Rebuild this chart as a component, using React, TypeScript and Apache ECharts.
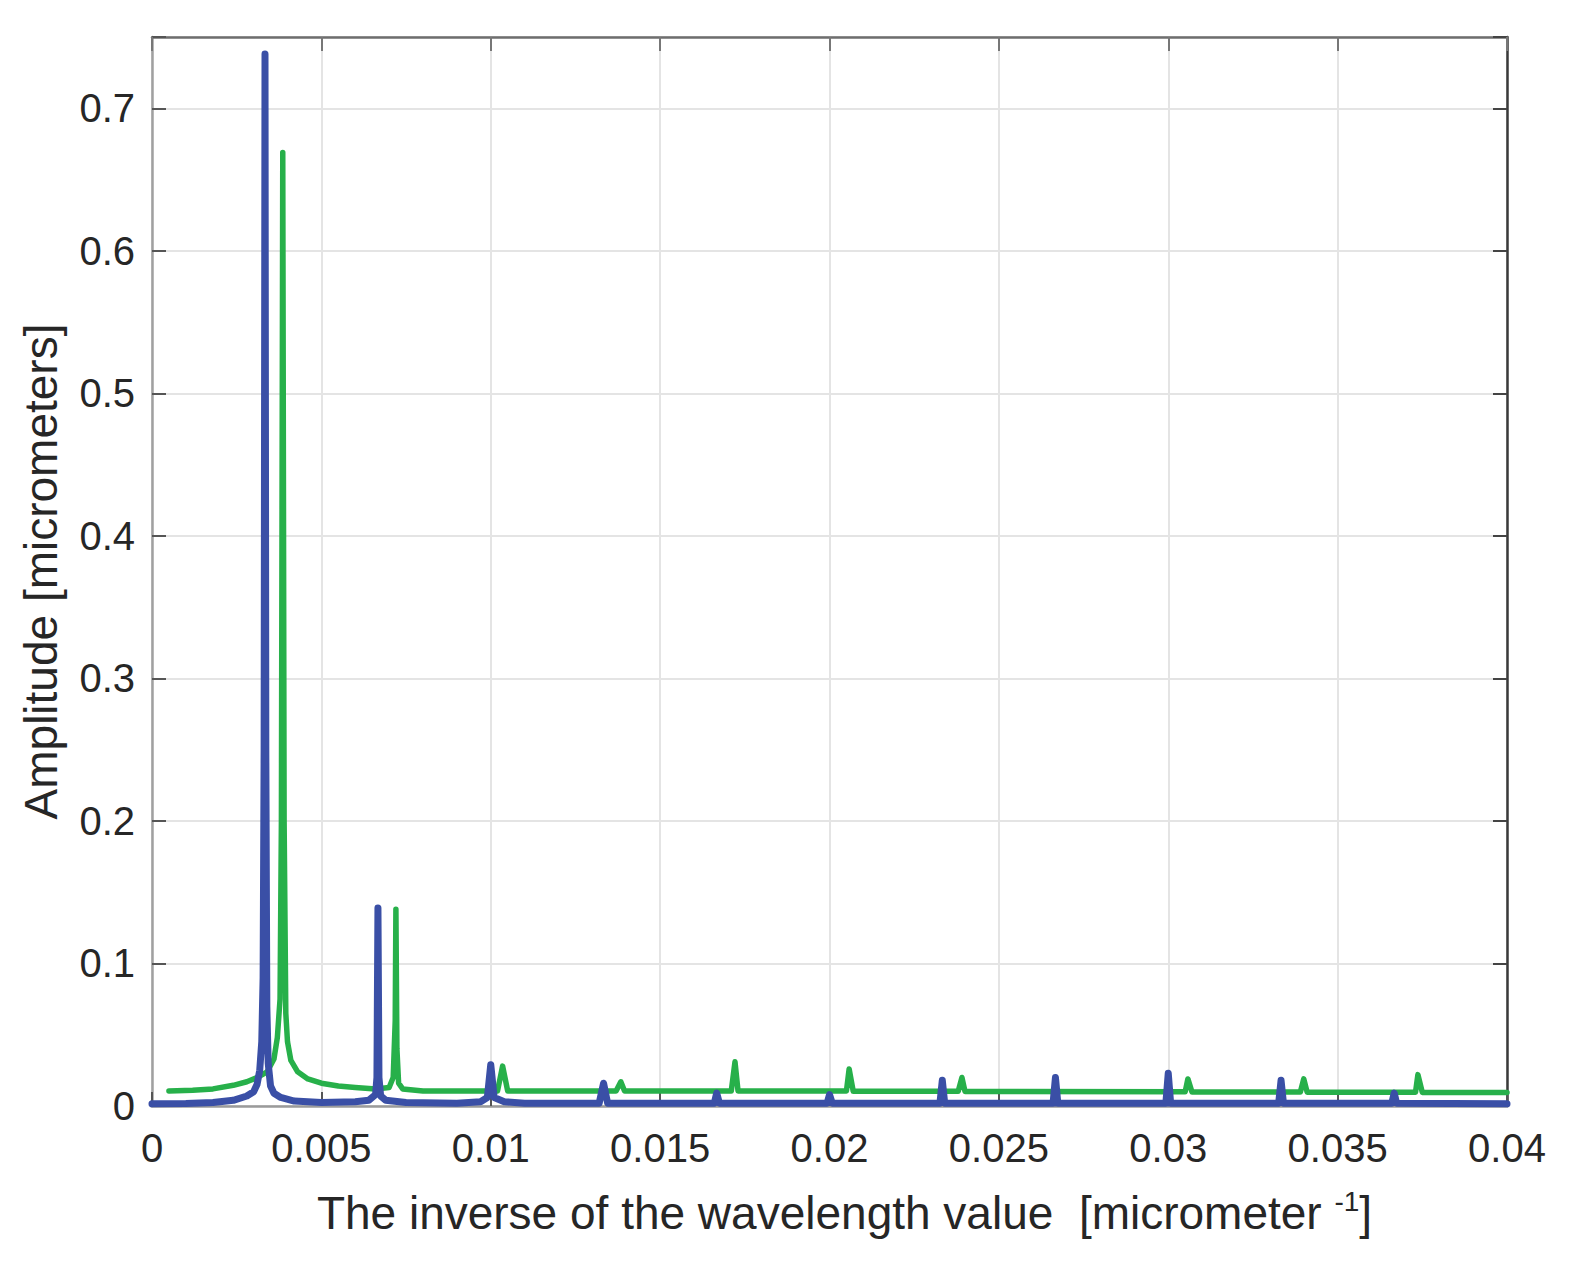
import React, { useEffect, useRef } from "react";
import * as echarts from "echarts";

// x ticks and y ticks
const xTicks = [0, 0.005, 0.01, 0.015, 0.02, 0.025, 0.03, 0.035, 0.04];
const yTickLabels = ["0", "0.1", "0.2", "0.3", "0.4", "0.5", "0.6", "0.7"];

// Blue series: [inverse wavelength, amplitude]
const blueX = [
  0, 0.001, 0.0018, 0.0024, 0.0028, 0.003, 0.0031, 0.00318, 0.00324, 0.00328, 0.00331, 0.003336,
  0.00336, 0.00339, 0.00343, 0.0035, 0.0036, 0.0038, 0.0042, 0.005, 0.006, 0.0064, 0.0066, 0.00664,
  0.00667, 0.0067, 0.00675, 0.0069, 0.0075, 0.009, 0.0097, 0.0099, 0.01, 0.0101, 0.0104, 0.011,
  0.0132, 0.01333, 0.01345, 0.0166, 0.01667, 0.01675, 0.01993, 0.02, 0.02008, 0.02326, 0.02333,
  0.0234, 0.0266, 0.02667, 0.02674, 0.02993, 0.03, 0.03007, 0.03326, 0.03333, 0.0334, 0.0366,
  0.03667, 0.03674, 0.04,
];
const blueY = [
  0.0015, 0.0018, 0.0025, 0.004, 0.007, 0.01, 0.015, 0.025, 0.045, 0.09, 0.25, 0.738,
  0.25, 0.07, 0.03, 0.014, 0.009, 0.006, 0.0035, 0.0025, 0.003, 0.004, 0.008, 0.02,
  0.139, 0.02, 0.007, 0.004, 0.0025, 0.002, 0.003, 0.006, 0.029, 0.006, 0.003, 0.002,
  0.002, 0.016, 0.002, 0.002, 0.009, 0.002, 0.002, 0.008, 0.002, 0.002, 0.018,
  0.002, 0.002, 0.02, 0.002, 0.002, 0.023, 0.002, 0.002, 0.018, 0.002, 0.002,
  0.009, 0.002, 0.0015,
];

// Green series
const greenX = [
  0.0005, 0.0012, 0.0018, 0.0024, 0.0028, 0.0031, 0.0034, 0.0036, 0.0037, 0.00378, 0.00382, 0.00386,
  0.0039, 0.00395, 0.004, 0.0041, 0.0043, 0.0046, 0.005, 0.0055, 0.006, 0.0066, 0.007, 0.00712,
  0.00718, 0.0072, 0.00723, 0.00728, 0.0074, 0.008, 0.0102, 0.01035, 0.0105, 0.0137, 0.01384,
  0.01395, 0.0171, 0.01721, 0.0173, 0.0205, 0.02058, 0.0207, 0.0238, 0.02391, 0.024, 0.0305,
  0.03058, 0.0307, 0.0339, 0.034, 0.0341, 0.0373, 0.03737, 0.0375, 0.04,
];
const greenY = [
  0.0105, 0.011, 0.012, 0.0145, 0.017, 0.02, 0.024, 0.033, 0.048, 0.075, 0.2, 0.669,
  0.2, 0.065, 0.045, 0.032, 0.024, 0.019, 0.016, 0.014, 0.013, 0.012, 0.013, 0.02,
  0.06, 0.138, 0.04, 0.016, 0.012, 0.0105, 0.0105, 0.028, 0.0105, 0.0105, 0.017,
  0.0105, 0.0105, 0.031, 0.0105, 0.0105, 0.026, 0.0103, 0.0103, 0.02, 0.0102, 0.01,
  0.019, 0.0098, 0.0098, 0.019, 0.0097, 0.0097, 0.022, 0.0095, 0.0095,
];

const FONT = "'Liberation Sans', Arial, Helvetica, sans-serif";
const TXT = "#262626";

export default function App() {
  const ref = useRef<HTMLDivElement>(null);
  useEffect(() => {
    if (!ref.current) return;
    const chart = echarts.init(ref.current, null, { renderer: "svg" });
    const blue = blueX.map((x, i) => [x, blueY[i]]);
    const green = greenX.map((x, i) => [x, greenY[i]]);
    const xMin = xTicks[0];
    const xMax = xTicks[xTicks.length - 1];
    const xInt = xTicks[1] - xTicks[0];
    const gridLine = { show: true, lineStyle: { color: "#e4e4e4", width: 2 } };
    chart.setOption({
      animation: false,
      backgroundColor: "#ffffff",
      grid: { left: 152, right: 63, top: 37, bottom: 159, containLabel: false },
      xAxis: [
        {
          type: "value",
          position: "bottom",
          min: xMin,
          max: xMax,
          interval: xInt,
          axisLine: { show: true, onZero: false, lineStyle: { color: "#9a9a9a", width: 2.5 } },
          axisTick: { show: true, inside: true, length: 14, lineStyle: { color: "#555", width: 2 } },
          axisLabel: { show: true, margin: 22, fontSize: 40, fontFamily: FONT, color: TXT },
          splitLine: gridLine,
          name: "The inverse of the wavelength value  [micrometer {sup|-1}]",
          nameLocation: "middle",
          nameGap: 81,
          nameTextStyle: {
            fontSize: 46,
            fontFamily: FONT,
            color: TXT,
            lineHeight: 52,
            padding: [0, 0, 0, 30],
            rich: {
              sup: { fontSize: 28, fontFamily: FONT, color: TXT, verticalAlign: "top", lineHeight: 28 },
            },
          },
        },
        {
          type: "value",
          position: "top",
          min: xMin,
          max: xMax,
          interval: xInt,
          axisLine: { show: true, onZero: false, lineStyle: { color: "#6e6e6e", width: 2.5 } },
          axisTick: { show: true, inside: true, length: 14, lineStyle: { color: "#777", width: 2 } },
          axisLabel: { show: false },
          splitLine: { show: false },
        },
      ],
      yAxis: [
        {
          type: "value",
          position: "left",
          min: 0,
          max: 0.75,
          interval: 0.1,
          axisLine: { show: true, onZero: false, lineStyle: { color: "#a0a0a0", width: 2.5 } },
          axisTick: { show: true, inside: true, length: 14, lineStyle: { color: "#555", width: 2 } },
          axisLabel: {
            show: true,
            margin: 17,
            fontSize: 40,
            fontFamily: FONT,
            color: TXT,
            formatter: (v: number) => {
              const idx = Math.round(v * 10);
              if (Math.abs(v * 10 - idx) > 1e-6) return "";
              return yTickLabels[idx] ?? "";
            },
          },
          splitLine: gridLine,
          name: "Amplitude [micrometers]",
          nameLocation: "middle",
          nameGap: 88,
          nameTextStyle: { fontSize: 46, fontFamily: FONT, color: TXT },
        },
        {
          type: "value",
          position: "right",
          min: 0,
          max: 0.75,
          interval: 0.1,
          axisLine: { show: true, onZero: false, lineStyle: { color: "#3a3a3a", width: 2.5 } },
          axisTick: { show: true, inside: true, length: 14, lineStyle: { color: "#444", width: 2 } },
          axisLabel: { show: false },
          splitLine: { show: false },
        },
      ],
      series: [
        {
          type: "line",
          name: "green",
          xAxisIndex: 0,
          yAxisIndex: 0,
          data: green,
          showSymbol: false,
          symbol: "none",
          lineStyle: { color: "#27b04a", width: 5.5, join: "round", cap: "round" },
          z: 2,
        },
        {
          type: "line",
          name: "blue",
          xAxisIndex: 0,
          yAxisIndex: 0,
          data: blue,
          showSymbol: false,
          symbol: "none",
          lineStyle: { color: "#3a4fa6", width: 7, join: "round", cap: "round" },
          z: 3,
        },
      ],
    });
    return () => chart.dispose();
  }, []);
  return (
    <div
      ref={ref}
      style={{ position: "fixed", left: 0, top: 0, width: 1570, height: 1265, background: "#fff" }}
    />
  );
}
